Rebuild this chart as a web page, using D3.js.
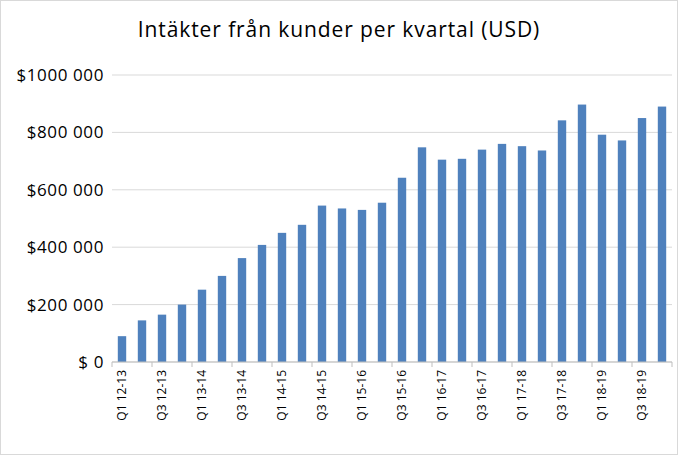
<!DOCTYPE html>
<html><head><meta charset="utf-8">
<script src="https://cdn.jsdelivr.net/npm/d3@7"></script>
<style>body{margin:0;background:#fff}svg{font-family:"Open Sans",Lato,sans-serif}</style>
</head><body><svg id="c" width="678" height="455"></svg>
<script>
const categories = ["Q1 12-13","Q2 12-13","Q3 12-13","Q4 12-13","Q1 13-14","Q2 13-14","Q3 13-14","Q4 13-14","Q1 14-15","Q2 14-15","Q3 14-15","Q4 14-15","Q1 15-16","Q2 15-16","Q3 15-16","Q4 15-16","Q1 16-17","Q2 16-17","Q3 16-17","Q4 16-17","Q1 17-18","Q2 17-18","Q3 17-18","Q4 17-18","Q1 18-19","Q2 18-19","Q3 18-19","Q4 18-19"];
const values = [90000,145000,165000,200000,252000,300000,362000,408000,450000,478000,545000,535000,530000,555000,642000,748000,705000,708000,740000,760000,752000,737000,842000,897000,792000,772000,850000,890000];
const yTicks = [0,200000,400000,600000,800000,1000000];
const tickLabels = ["$ 0","$200 000","$400 000","$600 000","$800 000","$1000 000"];

const svg = d3.select("#c");
svg.append("rect").attr("x",0.5).attr("y",0.5).attr("width",677).attr("height",454).attr("fill","#fff").attr("stroke","#d9d9d9");
const m={l:112,r:672,t:75,b:362};
const x=d3.scaleBand().domain(categories).range([m.l,m.r]).paddingInner(0.58).paddingOuter(0.29);
const y=d3.scaleLinear().domain([0,1000000]).range([m.b,m.t]);
svg.append("text").attr("x",339).attr("y",37).attr("text-anchor","middle").attr("font-size",21).attr("font-weight",500).attr("letter-spacing",0.9).attr("fill","#000").text("Intäkter från kunder per kvartal  (USD)");
const g=svg.append("g");
g.selectAll("line.grid").data(yTicks).join("line").attr("x1",m.l).attr("x2",m.r).attr("y1",d=>y(d)).attr("y2",d=>y(d)).attr("stroke","#d9d9d9");
g.selectAll("text.yl").data(yTicks).join("text").attr("x",104).attr("y",d=>y(d)+6).attr("text-anchor","end").attr("font-size",17).attr("letter-spacing",0.6).attr("fill","#000").text((d,i)=>tickLabels[i]);
g.selectAll("rect.bar").data(values).join("rect").attr("x",(d,i)=>x(categories[i])).attr("width",x.bandwidth()).attr("y",d=>y(d)).attr("height",d=>y(0)-y(d)).attr("fill","#4f81bd");
g.append("line").attr("x1",m.l).attr("x2",m.r).attr("y1",m.b).attr("y2",m.b).attr("stroke","#bfbfbf");
g.selectAll("line.tk").data(d3.range(0,categories.length+1,2)).join("line")
 .attr("x1",i=>m.l+i*x.step()).attr("x2",i=>m.l+i*x.step()).attr("y1",m.b).attr("y2",m.b+5).attr("stroke","#bfbfbf");
g.selectAll("text.xl").data(categories.filter((c,i)=>i%2==0)).join("text")
 .attr("transform",(d)=>`translate(${x(d)+x.bandwidth()/2+4},${m.b+8}) rotate(-90)`)
 .attr("text-anchor","end").attr("font-size",12).attr("fill","#000").text(d=>d);
</script></body></html>
